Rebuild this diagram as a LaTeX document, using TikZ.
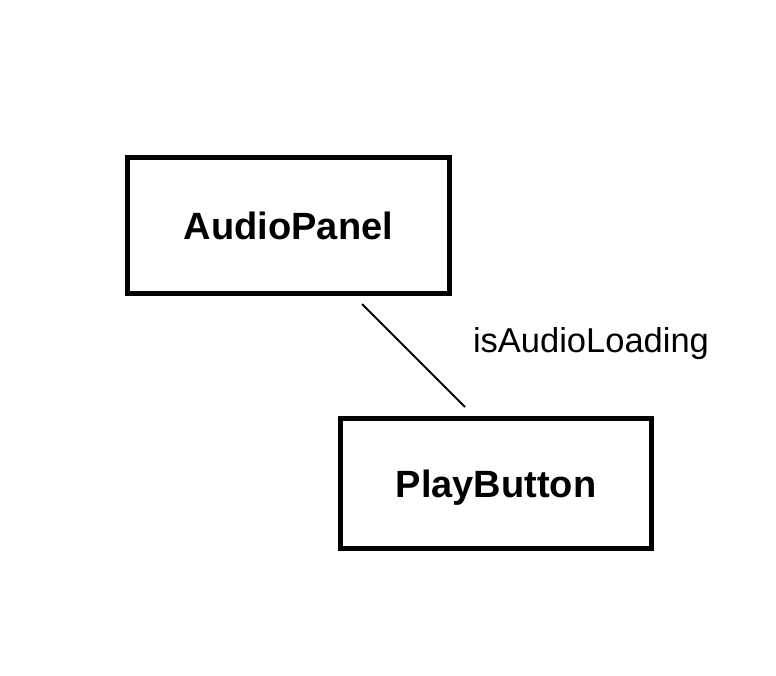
\documentclass[tikz,border=0pt]{standalone}
\usepackage{fontspec}
\setmainfont{Liberation Sans}
\begin{document}
\begin{tikzpicture}[x=1pt,y=1pt,
  compbox/.style={draw=black, line width=5pt, inner sep=0pt, text depth=0pt, font=\fontsize{38}{42}\selectfont\bfseries},
  edgelabel/.style={inner sep=0pt, font=\fontsize{34.5}{40}\selectfont},
  link/.style={draw=black, line width=2pt}]
\useasboundingbox[fill=white] (0,0) rectangle (776,-676);
\node[compbox, minimum width=322pt, minimum height=136pt] (A) at (288.5,-225.5) {AudioPanel};
\node[compbox, minimum width=311pt, minimum height=130pt] (B) at (496,-483.5) {PlayButton};
\coordinate (s) at ([shift={(73.5,-8)}]A.south);
\coordinate (t) at ([shift={(-31,9)}]B.north);
\draw[link] (s) -- (t);
\node[edgelabel] (lbl) at (591,-343.5) {isAudioLoading};
\end{tikzpicture}
\end{document}
